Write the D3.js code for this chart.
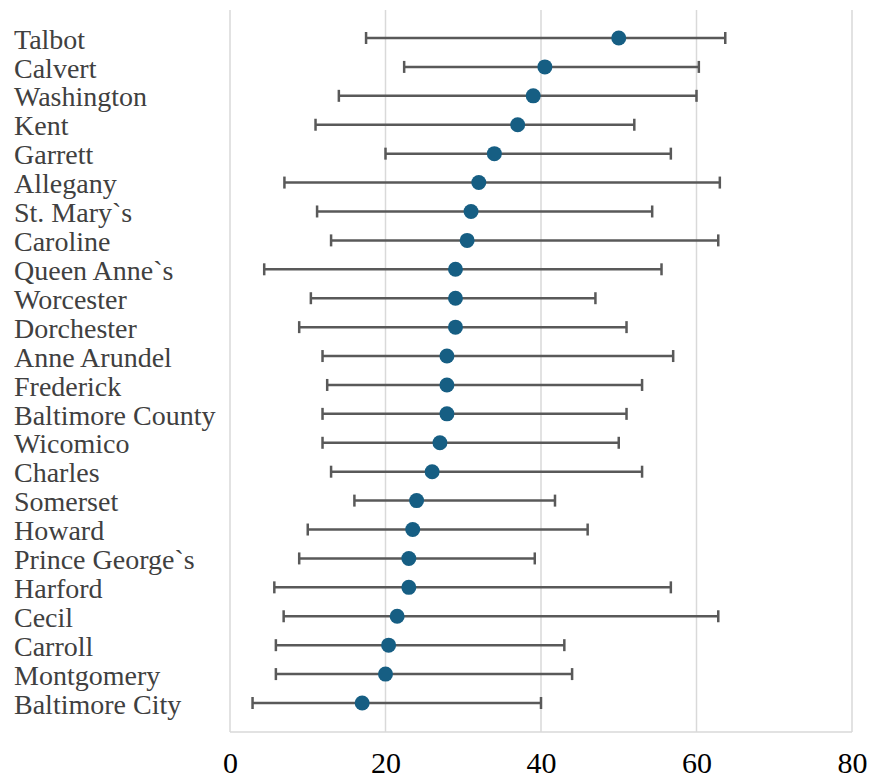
<!DOCTYPE html>
<html><head><meta charset="utf-8">
<script src="https://cdn.jsdelivr.net/npm/d3@7"></script>
<style>body{margin:0;background:#fff} text{font-family:"Liberation Serif","Times New Roman",serif}</style>
</head><body>
<svg id="chart" width="869" height="781"></svg>
<script>
const counties = ["Talbot","Calvert","Washington","Kent","Garrett","Allegany","St. Mary`s","Caroline","Queen Anne`s","Worcester","Dorchester","Anne Arundel","Frederick","Baltimore County","Wicomico","Charles","Somerset","Howard","Prince George`s","Harford","Cecil","Carroll","Montgomery","Baltimore City"];
const estimate = [50.0,40.5,39.0,37.0,34.0,32.0,31.0,30.5,29.0,29.0,29.0,27.9,27.9,27.9,27.0,26.0,24.0,23.5,23.0,23.0,21.5,20.4,20.0,17.0];
const lower = [17.5,22.4,14.0,11.0,20.0,7.0,11.2,13.0,4.4,10.4,8.9,11.9,12.5,11.9,11.9,13.0,16.0,10.0,8.9,5.7,6.9,5.9,5.9,2.9];
const upper = [63.7,60.3,60.0,52.0,56.7,63.0,54.3,62.8,55.5,47.0,51.0,57.0,53.0,51.0,50.0,53.0,41.8,46.0,39.2,56.7,62.8,43.0,44.0,40.0];
const xTicks = [0,20,40,60,80];

(function(){
const svg = d3.select("#chart");
const mLeft = 230, mRight = 852, mTop = 10, mBottom = 732;
const x = d3.scaleLinear().domain([0,80]).range([mLeft,mRight]);
const y = d3.scalePoint().domain(counties).range([38,703]);
const serif = '"Liberation Serif","Times New Roman",serif';

svg.append("g").selectAll("line").data(xTicks).join("line")
  .attr("x1", d=>x(d)).attr("x2", d=>x(d)).attr("y1", mTop).attr("y2", mBottom)
  .attr("stroke", "#d9d9d9").attr("stroke-width", 1.5);
svg.append("line").attr("x1", mLeft).attr("x2", mRight).attr("y1", mBottom).attr("y2", mBottom)
  .attr("stroke", "#d9d9d9").attr("stroke-width", 1.5);

const xAxis = d3.axisBottom(x).tickValues(xTicks).tickSize(0).tickPadding(0);
const gx = svg.append("g").attr("transform", `translate(0,${mBottom})`).call(xAxis)
  .attr("font-family", null).attr("font-size", null);
gx.select(".domain").remove();
gx.selectAll("text").attr("y", 41).attr("dy", 0)
  .style("font-family", serif).style("font-size", "30px").attr("fill", "#000");

svg.append("g").selectAll("text").data(counties).join("text")
  .attr("x", 14).attr("y", d=>y(d)).attr("dy", "0.38em")
  .style("font-family", serif).style("font-size", "28px").attr("fill", "#404040")
  .text(d=>d);

const data = counties.map((c,i)=>({c, e:estimate[i], lo:lower[i], hi:upper[i]}));
const rows = svg.append("g").selectAll("g.row").data(data).join("g").attr("class","row");
rows.append("line").attr("x1", d=>x(d.lo)).attr("x2", d=>x(d.hi))
  .attr("y1", d=>y(d.c)).attr("y2", d=>y(d.c))
  .attr("stroke", "#595959").attr("stroke-width", 2.5);
rows.append("line").attr("x1", d=>x(d.lo)).attr("x2", d=>x(d.lo))
  .attr("y1", d=>y(d.c)-6).attr("y2", d=>y(d.c)+6)
  .attr("stroke", "#595959").attr("stroke-width", 2.5);
rows.append("line").attr("x1", d=>x(d.hi)).attr("x2", d=>x(d.hi))
  .attr("y1", d=>y(d.c)-6).attr("y2", d=>y(d.c)+6)
  .attr("stroke", "#595959").attr("stroke-width", 2.5);
rows.append("circle").attr("cx", d=>x(d.e)).attr("cy", d=>y(d.c)).attr("r", 7.5)
  .attr("fill", "#165e83");
})();
</script>
</body></html>
